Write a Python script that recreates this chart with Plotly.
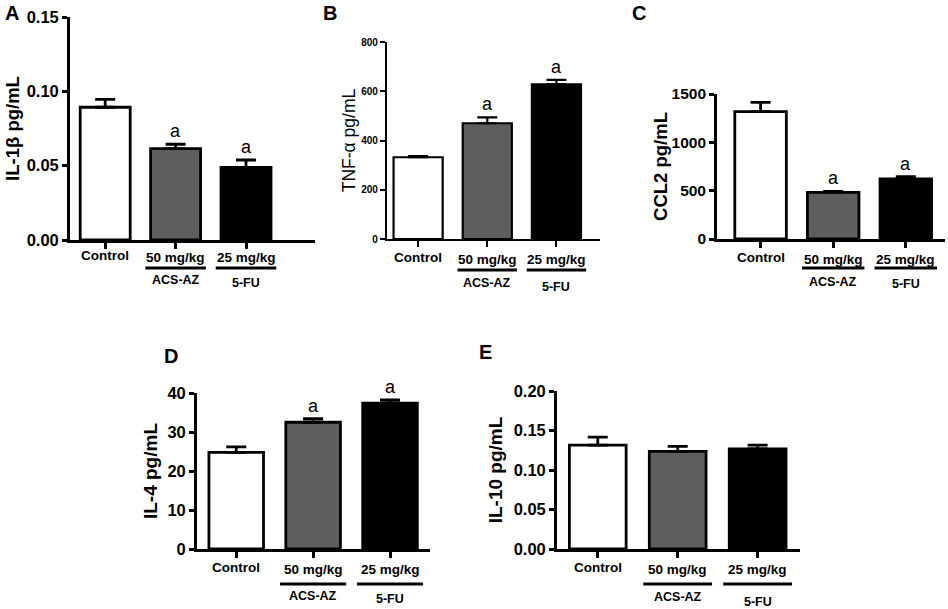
import plotly.graph_objects as go

W, H = 948, 609

categories = ["Control", "50 mg/kg", "25 mg/kg"]
groups = ["ACS-AZ", "5-FU"]

il1b = [0.0893, 0.0614, 0.0489]
il1b_err = [0.0053, 0.0030, 0.0049]
tnfa = [332, 470, 628]
tnfa_err = [5, 24, 18]
ccl2 = [1317, 482, 621]
ccl2_err = [96, 10, 24]
il4 = [24.8, 32.5, 37.4]
il4_err = [1.4, 0.9, 0.8]
il10 = [0.1315, 0.1235, 0.1268]
il10_err = [0.0100, 0.0063, 0.0047]

bar_colors = ["white", "#5e5e5e", "black"]
FONT = "Liberation Sans, Arial, sans-serif"


def px_x(p):
    return p / W


def px_y(p):
    return 1 - p / H


# one dict per panel; positions are in page pixels
# rows = (category label y, bracket line y, group 1 label y, group 2 label y)
panels = [
    dict(letter="A", lpos=(12, 13), vals=il1b, err=il1b_err, title="IL-1β pg/mL", bold=True,
         tickvals=[0, 0.05, 0.10, 0.15], ticktext=["0.00", "0.05", "0.10", "0.15"], yrange=[0, 0.15],
         dom_x=(70, 315), dom_y=(17, 240), xrange=[-0.5, 2.98], tfs=16.5, titlefs=18.5, standoff=3,
         rows=(256, 268, 280, 283), sig=[False, True, True]),
    dict(letter="B", lpos=(330, 13), vals=tnfa, err=tnfa_err, title="TNF-α pg/mL", bold=False,
         tickvals=[0, 200, 400, 600, 800], ticktext=["0", "200", "400", "600", "800"], yrange=[0, 800],
         dom_x=(387, 600), dom_y=(42, 239), xrange=[-0.45, 2.63], tfs=10, titlefs=17.5, standoff=1,
         rows=(258, 270, 283, 287), sig=[False, True, True]),
    dict(letter="C", lpos=(639, 13), vals=ccl2, err=ccl2_err, title="CCL2 pg/mL", bold=True,
         tickvals=[0, 500, 1000, 1500], ticktext=["0", "500", "1000", "1500"], yrange=[0, 1500],
         dom_x=(717, 945), dom_y=(94, 239), xrange=[-0.6, 2.54], tfs=15.5, titlefs=18.5, standoff=0,
         rows=(257, 268, 282, 284), sig=[False, True, True]),
    dict(letter="D", lpos=(171, 356), vals=il4, err=il4_err, title="IL-4 pg/mL", bold=True,
         tickvals=[0, 10, 20, 30, 40], ticktext=["0", "10", "20", "30", "40"], yrange=[0, 40],
         dom_x=(197, 430), dom_y=(393, 549), xrange=[-0.51, 2.52], tfs=16.5, titlefs=19, standoff=5,
         rows=(567, 584, 596, 599), sig=[False, True, True]),
    dict(letter="E", lpos=(485, 352), vals=il10, err=il10_err, title="IL-10 pg/mL", bold=True,
         tickvals=[0, 0.05, 0.10, 0.15, 0.20], ticktext=["0.00", "0.05", "0.10", "0.15", "0.20"],
         yrange=[0, 0.20], dom_x=(557, 800), dom_y=(391, 549), xrange=[-0.51, 2.53], tfs=16.5, titlefs=19,
         standoff=7, rows=(567, 584, 597, 602), sig=[False, False, False]),
]

fig = go.Figure()
annotations = []
shapes = []

for i, p in enumerate(panels):
    n = "" if i == 0 else str(i + 1)
    xa, ya = "x" + n, "y" + n
    small = p["tfs"] < 12
    lw = 2.2 if small else 2.8

    fig.add_trace(go.Bar(
        x=categories, y=p["vals"], xaxis=xa, yaxis=ya, width=0.71,
        marker=dict(color=bar_colors, line=dict(color="black", width=lw)),
        error_y=dict(type="data", array=p["err"], arrayminus=[0, 0, 0], symmetric=False,
                     color="black", thickness=lw, width=10),
        showlegend=False, hoverinfo="skip",
    ))

    fig.layout["xaxis" + n] = dict(
        domain=[px_x(p["dom_x"][0]), px_x(p["dom_x"][1])], anchor=ya,
        range=p["xrange"], showline=True, linecolor="black", linewidth=lw,
        ticks="outside", ticklen=6, tickwidth=lw, tickcolor="black", showticklabels=False,
        showgrid=False, zeroline=False, fixedrange=True, automargin=False,
    )
    fig.layout["yaxis" + n] = dict(
        domain=[px_y(p["dom_y"][1]), px_y(p["dom_y"][0])], anchor=xa,
        range=p["yrange"], tickvals=p["tickvals"], ticktext=p["ticktext"],
        showline=True, linecolor="black", linewidth=lw,
        ticks="outside", ticklen=5, tickwidth=lw, tickcolor="black",
        tickfont=dict(family=FONT, size=p["tfs"], color="black", weight="bold"),
        title=dict(text=p["title"], standoff=p["standoff"],
                   font=dict(family=FONT, size=p["titlefs"], color="black",
                             weight="bold" if p["bold"] else "normal")),
        showgrid=False, zeroline=False, fixedrange=True, automargin=False,
    )

    # panel letter
    annotations.append(dict(
        text=p["letter"], xref="paper", yref="paper", x=px_x(p["lpos"][0]), y=px_y(p["lpos"][1]),
        xanchor="center", yanchor="middle", showarrow=False,
        font=dict(family=FONT, size=20, color="black", weight="bold"),
    ))

    cat_y, line_y, g1_y, g2_y = p["rows"]
    for j, c in enumerate(categories):
        # category label under the axis
        annotations.append(dict(
            text=c, xref=xa, yref="paper", x=j, y=px_y(cat_y + (2 if j > 0 else 0)),
            xanchor="center", yanchor="middle", showarrow=False,
            font=dict(family=FONT, size=13.5, color="black", weight="bold"),
        ))
        # significance letters
        if p["sig"][j]:
            annotations.append(dict(
                text="a", xref=xa, yref=ya, x=j, y=p["vals"][j] + p["err"][j],
                xanchor="center", yanchor="bottom", yshift=1, showarrow=False,
                font=dict(family=FONT, size=18, color="black"),
            ))

    # group brackets and labels
    for k, g in enumerate(groups):
        c = k + 1
        shapes.append(dict(
            type="line", xref=xa, yref="paper", x0=c - 0.43, x1=c + 0.43,
            y0=px_y(line_y), y1=px_y(line_y), line=dict(color="black", width=2.8),
        ))
        annotations.append(dict(
            text=g, xref=xa, yref="paper", x=c, y=px_y(g1_y if k == 0 else g2_y),
            xanchor="center", yanchor="middle", showarrow=False,
            font=dict(family=FONT, size=12.5, color="black", weight="bold"),
        ))

fig.update_layout(
    width=W, height=H, margin=dict(l=0, r=0, t=0, b=0, pad=0),
    paper_bgcolor="white", plot_bgcolor="white",
    annotations=annotations, shapes=shapes,
)

fig.write_html("out.html", config={"displayModeBar": False},
               post_script="document.body.style.margin='0px';")
